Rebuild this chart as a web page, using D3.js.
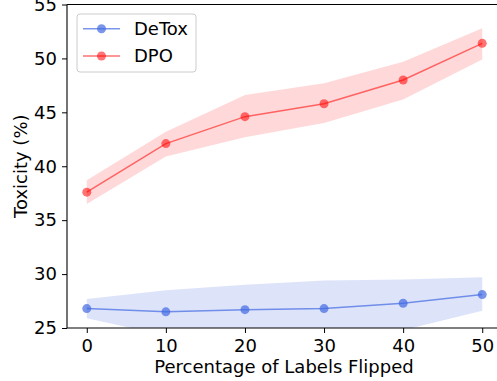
<!DOCTYPE html>
<html>
<head>
<meta charset="utf-8">
<script src="https://cdn.jsdelivr.net/npm/d3@7"></script>
<style>
  body { margin: 0; background: #fff; }
  svg { font-family: "DejaVu Sans", sans-serif; }
</style>
</head>
<body>
<div id="chart"></div>
<script>
var flipped = [0, 10, 20, 30, 40, 50];
var detoxMean = [26.8, 26.5, 26.7, 26.8, 27.3, 28.1];
var detoxLow = [25.9, 24.3, 24.2, 24.2, 24.8, 26.6];
var detoxHigh = [27.7, 28.5, 29.0, 29.4, 29.5, 29.7];
var dpoMean = [37.6, 42.1, 44.6, 45.8, 48.0, 51.4];
var dpoLow = [36.5, 40.9, 42.7, 44.0, 46.2, 49.9];
var dpoHigh = [38.7, 43.2, 46.6, 47.7, 49.7, 52.8];
var yTicks = [25, 30, 35, 40, 45, 50, 55];

var W = 497, H = 381;
var mLeft = 67, mTop = 4.5, mRight = 502, mBottom = 328;
var fontSize = "18px";

var svg = d3.select("#chart").append("svg")
    .attr("width", W).attr("height", H);

var x = d3.scaleLinear().domain([-2.5, 52.5]).range([mLeft, mRight]);
var y = d3.scaleLinear().domain([25, 55]).range([mBottom, mTop]);

svg.append("clipPath").attr("id", "clip")
  .append("rect").attr("x", mLeft).attr("y", mTop)
  .attr("width", mRight - mLeft).attr("height", mBottom - mTop);

var plot = svg.append("g").attr("clip-path", "url(#clip)");

var series = [
  {name: "DeTox", mean: detoxMean, low: detoxLow, high: detoxHigh, color: "royalblue", lineAlpha: 0.7, fillAlpha: 0.18},
  {name: "DPO", mean: dpoMean, low: dpoLow, high: dpoHigh, color: "red", lineAlpha: 0.55, fillAlpha: 0.15}
];

series.forEach(function(s) {
  var rows = flipped.map(function(f, i) {
    return {x: f, m: s.mean[i], lo: s.low[i], hi: s.high[i]};
  });
  // band
  plot.append("path").datum(rows)
    .attr("d", d3.area().x(function(d) { return x(d.x); })
      .y0(function(d) { return y(d.lo); })
      .y1(function(d) { return y(d.hi); }))
    .attr("fill", s.color).attr("fill-opacity", s.fillAlpha);
  // line
  plot.append("path").datum(rows)
    .attr("d", d3.line().x(function(d) { return x(d.x); }).y(function(d) { return y(d.m); }))
    .attr("fill", "none").attr("stroke", s.color)
    .attr("stroke-opacity", s.lineAlpha).attr("stroke-width", 1.5);
  // markers
  plot.selectAll(null).data(rows).enter().append("circle")
    .attr("cx", function(d) { return x(d.x); })
    .attr("cy", function(d) { return y(d.m); })
    .attr("r", 4.5)
    .attr("fill", s.color).attr("fill-opacity", s.lineAlpha);
});

// axes
var xAxis = svg.append("g").attr("transform", "translate(0," + mBottom + ")")
  .call(d3.axisBottom(x).tickValues(flipped).tickSize(5).tickPadding(6).tickFormat(d3.format("d")));
var yAxis = svg.append("g").attr("transform", "translate(" + mLeft + ",0)")
  .call(d3.axisLeft(y).tickValues(yTicks).tickSize(5).tickPadding(5));

[xAxis, yAxis].forEach(function(a) {
  a.select(".domain").remove();
  a.selectAll("text").attr("font-size", fontSize).attr("fill", "#000")
    .attr("font-family", "DejaVu Sans, sans-serif");
  a.selectAll("line").attr("stroke", "#000").attr("stroke-width", 1);
});

// spines
svg.append("line").attr("x1", mLeft).attr("x2", mLeft).attr("y1", mTop).attr("y2", mBottom)
  .attr("stroke", "#000").attr("stroke-width", 1.1);
svg.append("line").attr("x1", mLeft).attr("x2", mRight).attr("y1", mBottom).attr("y2", mBottom)
  .attr("stroke", "#000").attr("stroke-width", 1.1);
svg.append("line").attr("x1", mLeft).attr("x2", mRight).attr("y1", mTop).attr("y2", mTop)
  .attr("stroke", "#000").attr("stroke-width", 1.1);

// axis labels
svg.append("text")
  .attr("x", 284).attr("y", 373)
  .attr("text-anchor", "middle").attr("font-size", fontSize)
  .text("Percentage of Labels Flipped");

svg.append("text")
  .attr("transform", "translate(27," + ((mTop + mBottom) / 2) + ") rotate(-90)")
  .attr("text-anchor", "middle").attr("font-size", fontSize)
  .text("Toxicity (%)");

// legend
var leg = svg.append("g");
leg.append("rect").attr("x", 77).attr("y", 14).attr("width", 119).attr("height", 58)
  .attr("rx", 3).attr("fill", "#fff").attr("fill-opacity", 0.8)
  .attr("stroke", "#ccc").attr("stroke-width", 1);
series.forEach(function(s, i) {
  var ly = 28.7 + i * 27.3;
  leg.append("line").attr("x1", 83).attr("x2", 120).attr("y1", ly).attr("y2", ly)
    .attr("stroke", s.color).attr("stroke-opacity", s.lineAlpha).attr("stroke-width", 1.5);
  leg.append("circle").attr("cx", 101.5).attr("cy", ly).attr("r", 4.5)
    .attr("fill", s.color).attr("fill-opacity", s.lineAlpha);
  leg.append("text").attr("x", 134).attr("y", ly).attr("dy", "0.36em")
    .attr("font-size", fontSize).text(s.name);
});
</script>
</body>
</html>
